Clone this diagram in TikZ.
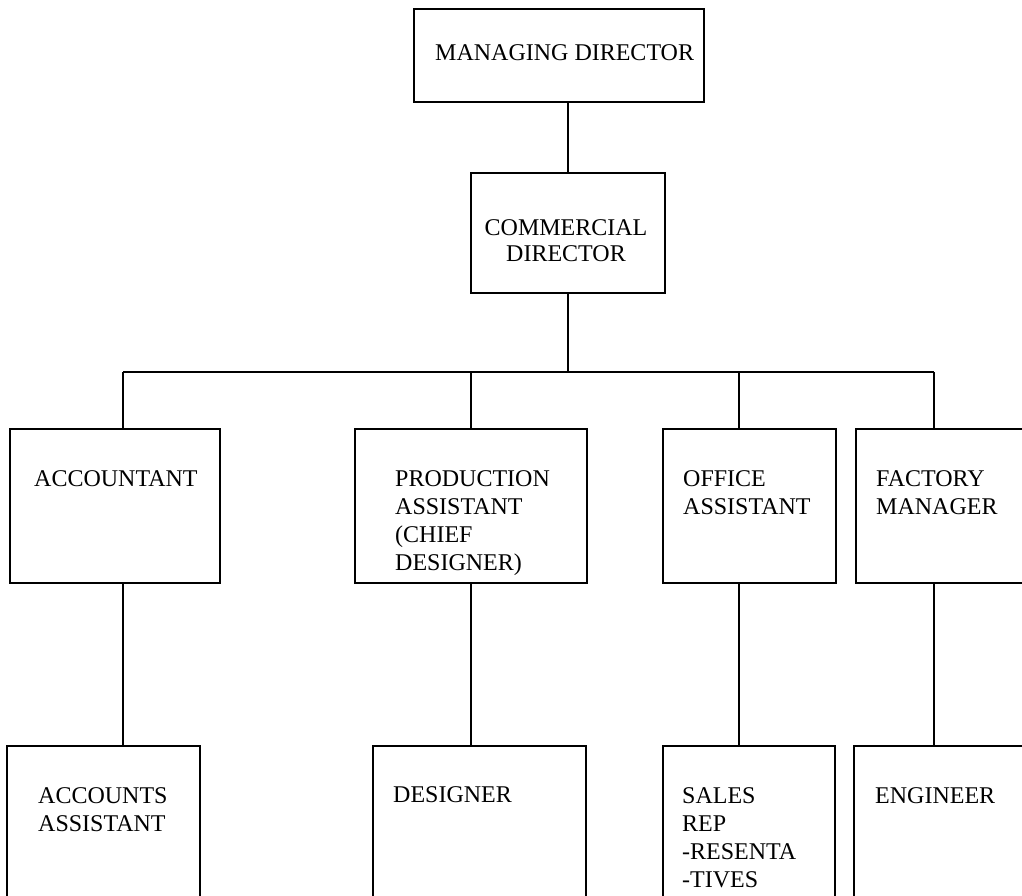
\documentclass[tikz,border=0pt]{standalone}
\usepackage{fontspec}
\setmainfont{Liberation Serif}
\begin{document}
\begin{tikzpicture}[x=1pt,y=-1pt,
  box/.style={draw, line width=1.8pt, rectangle, inner sep=0pt},
  lbl/.style={anchor=north west, inner sep=0pt, align=left, font=\fontsize{24}{28}\selectfont},
  wire/.style={line width=2.8pt}]
\useasboundingbox (0,0) rectangle (1022,896);
\clip (0,0) rectangle (1022,896);
% boxes
\node[box, minimum width=290pt, minimum height=93pt] (md) at (559,55.5) {};
\node[box, minimum width=194pt, minimum height=120pt] (cd) at (568,233) {};
\node[box, minimum width=210pt, minimum height=154pt] (acc) at (115,506) {};
\node[box, minimum width=232pt, minimum height=154pt] (prod) at (471,506) {};
\node[box, minimum width=173pt, minimum height=154pt] (off) at (749.5,506) {};
\node[box, minimum width=194pt, minimum height=154pt] (fac) at (953,506) {};
\node[box, minimum width=193pt, minimum height=184pt] (aa) at (103.5,838) {};
\node[box, minimum width=213pt, minimum height=184pt] (des) at (479.5,838) {};
\node[box, minimum width=172pt, minimum height=184pt] (sal) at (749,838) {};
\node[box, minimum width=196pt, minimum height=184pt] (eng) at (952,838) {};
% labels
\node[lbl] (tmd) at (435,44) {MANAGING DIRECTOR};
\node[lbl, anchor=north, align=center, font=\fontsize{24}{26}\selectfont] (tcd) at (566,219) {COMMERCIAL\\DIRECTOR};
\node[lbl] (tacc) at (34,470) {ACCOUNTANT};
\node[lbl] (tprod) at (395,470) {PRODUCTION\\ASSISTANT\\(CHIEF\\DESIGNER)};
\node[lbl] (toff) at (683,470) {OFFICE\\ASSISTANT};
\node[lbl] (tfac) at (876,470) {FACTORY\\MANAGER};
\node[lbl] (taa) at (38,787) {ACCOUNTS\\ASSISTANT};
\node[lbl] (tdes) at (393,786) {DESIGNER};
\node[lbl] (tsal) at (682,787) {SALES\\REP\\-RESENTA\\-TIVES};
\node[lbl] (teng) at (875,787) {ENGINEER};
% connectors
\coordinate (bus) at (568,372);
\coordinate (xa) at (123,372);
\coordinate (xp) at (471,372);
\coordinate (xo) at (739,372);
\coordinate (xf) at (934,372);
\draw[wire] (md.south -| cd.north) -- (cd.north);
\draw[wire] (cd.south) -- (bus);
\draw[wire] (xa) -- (xf);
\draw[wire] (xa) -- (xa |- acc.north);
\draw[wire] (xp) -- (xp |- prod.north);
\draw[wire] (xo) -- (xo |- off.north);
\draw[wire] (xf) -- (xf |- fac.north);
\draw[wire] (xa |- acc.south) -- (xa |- aa.north);
\draw[wire] (xp |- prod.south) -- (xp |- des.north);
\draw[wire] (xo |- off.south) -- (xo |- sal.north);
\draw[wire] (xf |- fac.south) -- (xf |- eng.north);
\end{tikzpicture}
\end{document}
